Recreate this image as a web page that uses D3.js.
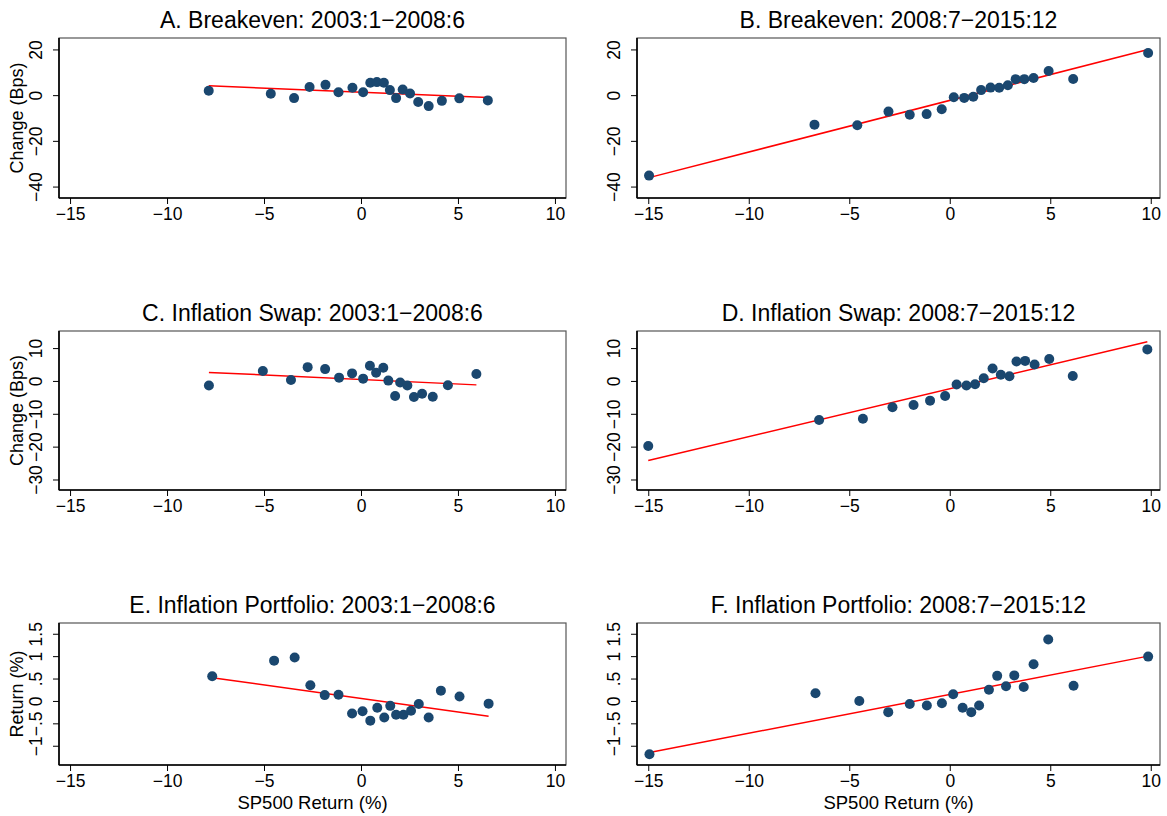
<!DOCTYPE html>
<html>
<head>
<meta charset="utf-8">
<script src="https://cdn.jsdelivr.net/npm/d3@7"></script>
<style>
  body { margin: 0; background: #fff; }
  svg { font-family: "Liberation Sans", Arial, Helvetica, sans-serif; }
</style>
</head>
<body>
<div id="chart"></div>
<script>
// SP500 return (x) and response (y) for each panel
var xA = [-7.85, -4.65, -3.45, -2.65, -1.83, -1.16, -0.44, 0.11, 0.48, 0.82, 1.18, 1.49, 1.81, 2.15, 2.53, 2.95, 3.49, 4.17, 5.07, 6.54];
var yA = [1.9, 0.6, -1.3, 3.6, 4.5, 1.3, 3.2, 1.3, 5.4, 5.7, 5.4, 2.2, -1.3, 2.5, 0.7, -3.0, -4.8, -2.5, -1.4, -2.3];

var xB = [-14.96, -6.73, -4.6, -3.05, -1.99, -1.15, -0.4, 0.2, 0.72, 1.17, 1.56, 2.03, 2.46, 2.89, 3.28, 3.71, 4.17, 4.92, 6.14, 9.87];
var yB = [-35.2, -12.9, -13.2, -7.2, -8.6, -8.3, -6.2, -0.9, -1.2, -0.7, 2.2, 3.3, 3.2, 4.3, 7.0, 7.0, 7.5, 10.6, 7.1, 18.4];

var xC = [-7.84, -5.06, -3.61, -2.75, -1.85, -1.13, -0.46, 0.11, 0.46, 0.78, 1.15, 1.41, 1.76, 2.02, 2.39, 2.73, 3.15, 3.7, 4.48, 5.95];
var yC = [-1.4, 3.0, 0.3, 4.2, 3.6, 1.0, 2.3, 0.7, 4.6, 2.5, 4.0, 0.1, -4.6, -0.5, -1.4, -4.9, -3.9, -4.8, -1.3, 2.1];

var xD = [-15.0, -6.5, -4.32, -2.85, -1.8, -0.98, -0.23, 0.34, 0.83, 1.26, 1.69, 2.13, 2.54, 2.97, 3.32, 3.75, 4.22, 4.95, 6.12, 9.83];
var yD = [-19.8, -11.9, -11.5, -8.0, -7.3, -6.0, -4.6, -1.1, -1.4, -1.0, 0.8, 3.8, 1.9, 1.4, 5.9, 6.1, 5.0, 6.7, 1.5, 9.6];

var xE = [-7.67, -4.48, -3.42, -2.61, -1.87, -1.16, -0.46, 0.08, 0.48, 0.84, 1.2, 1.51, 1.81, 2.19, 2.58, 2.98, 3.49, 4.12, 5.08, 6.58];
var yE = [0.55, 0.9, 0.97, 0.35, 0.13, 0.14, -0.28, -0.23, -0.44, -0.15, -0.37, -0.11, -0.31, -0.31, -0.22, -0.07, -0.37, 0.23, 0.1, -0.06];

var xF = [-14.94, -6.68, -4.5, -3.06, -1.99, -1.14, -0.39, 0.17, 0.64, 1.07, 1.46, 1.95, 2.36, 2.8, 3.21, 3.68, 4.17, 4.9, 6.16, 9.87];
var yF = [-1.19, 0.17, 0.0, -0.25, -0.07, -0.1, -0.05, 0.15, -0.15, -0.25, -0.1, 0.25, 0.56, 0.33, 0.57, 0.31, 0.82, 1.37, 0.34, 0.99];

// fitted lines (intercept, slope) as drawn in the figure
var fitIntercept = [1.32, -2.30, 0.44, -2.39, 0.057, 0.145];
var fitSlope = [-0.354, 2.259, -0.2756, 1.454, -0.0604, 0.0867];

var titles = ["A. Breakeven: 2003:1\u22122008:6", "B. Breakeven: 2008:7\u22122015:12",
              "C. Inflation Swap: 2003:1\u22122008:6", "D. Inflation Swap: 2008:7\u22122015:12",
              "E. Inflation Portfolio: 2003:1\u22122008:6", "F. Inflation Portfolio: 2008:7\u22122015:12"];
var xTicks = [-15, -10, -5, 0, 5, 10];
var yTicksBps = [-40, -20, 0, 20];
var yTicksSwap = [-30, -20, -10, 0, 10];
var yTicksRet = [-1, -0.5, 0, 0.5, 1, 1.5];
var yTitles = ["Change (Bps)", "Change (Bps)", "Return (%)"];
var xTitle = "SP500 Return (%)";

var width = 1167, height = 816;
var svg = d3.select("#chart").append("svg")
    .attr("width", width)
    .attr("height", height);

// box positions for the two columns and three rows
var cols = [{x0: 59, x1: 566, dom: [-15.57, 10.57]}, {x0: 637, x1: 1160, dom: [-15.56, 10.46]}];
var rows = [
  {y0: 38, y1: 198, dom: [-45, 25], ticks: yTicksBps},
  {y0: 331, y1: 490, dom: [-33.2, 15.2], ticks: yTicksSwap},
  {y0: 623, y1: 765, dom: [-1.43, 1.74], ticks: yTicksRet}
];
var data = [[xA, yA], [xB, yB], [xC, yC], [xD, yD], [xE, yE], [xF, yF]];

function fmt(v) {
  var s = String(v);
  s = s.replace(/^0\./, ".").replace(/^-0\./, "-.");
  return s.replace("-", "\u2212");
}

data.forEach(function(p, i) {
  var c = cols[i % 2], r = rows[Math.floor(i / 2)];
  var x = d3.scaleLinear().domain(c.dom).range([c.x0, c.x1]);
  var y = d3.scaleLinear().domain(r.dom).range([r.y1, r.y0]);
  var g = svg.append("g");

  g.append("rect")
      .attr("x", c.x0).attr("y", r.y0)
      .attr("width", c.x1 - c.x0).attr("height", r.y1 - r.y0)
      .attr("fill", "none").attr("stroke", "#555").attr("stroke-width", 1.2);

  var xAxis = g.append("g")
      .attr("transform", "translate(0," + r.y1 + ")")
      .call(d3.axisBottom(x).tickValues(xTicks).tickSize(6).tickPadding(4).tickFormat(fmt));
  var yAxis = g.append("g")
      .attr("transform", "translate(" + c.x0 + ",0)")
      .call(d3.axisLeft(y).tickValues(r.ticks).tickSize(6).tickFormat(fmt));

  [xAxis, yAxis].forEach(function(a) {
    a.select(".domain").attr("stroke", "#000").attr("stroke-width", 1.6);
    a.selectAll(".tick line").attr("stroke", "#000").attr("stroke-width", 1);
    a.selectAll("text").attr("font-size", 17.5).attr("fill", "#000")
        .attr("font-family", "'Liberation Sans', Arial, sans-serif");
  });
  yAxis.selectAll(".domain").attr("d", "M0," + r.y1 + "V" + r.y0);
  xAxis.selectAll(".domain").attr("d", "M" + c.x0 + ",0H" + c.x1);
  // rotated y tick labels, reading bottom to top
  yAxis.selectAll(".tick text")
      .attr("x", null).attr("dy", null)
      .attr("text-anchor", "middle")
      .attr("transform", "translate(-17,0) rotate(-90)");

  // fitted line over the range of the data
  var lo = d3.min(p[0]), hi = d3.max(p[0]);
  g.append("line")
      .attr("x1", x(lo)).attr("y1", y(fitIntercept[i] + fitSlope[i] * lo))
      .attr("x2", x(hi)).attr("y2", y(fitIntercept[i] + fitSlope[i] * hi))
      .attr("stroke", "#ff0000").attr("stroke-width", 1.5);

  g.selectAll("circle")
      .data(p[0])
      .join("circle")
      .attr("cx", function(d) { return x(d); })
      .attr("cy", function(d, k) { return y(p[1][k]); })
      .attr("r", 5)
      .attr("fill", "#1a476f");

  g.append("text")
      .attr("x", (c.x0 + c.x1) / 2).attr("y", r.y0 - 10)
      .attr("text-anchor", "middle")
      .attr("font-size", 23)
      .text(titles[i]);

  if (i % 2 === 0) {
    g.append("text")
        .attr("transform", "translate(23," + (r.y0 + r.y1) / 2 + ") rotate(-90)")
        .attr("text-anchor", "middle")
        .attr("font-size", 18)
        .text(yTitles[Math.floor(i / 2)]);
  }
  if (i >= 4) {
    g.append("text")
        .attr("x", (c.x0 + c.x1) / 2).attr("y", 809)
        .attr("text-anchor", "middle")
        .attr("font-size", 18.5)
        .text(xTitle);
  }
});
</script>
</body>
</html>
